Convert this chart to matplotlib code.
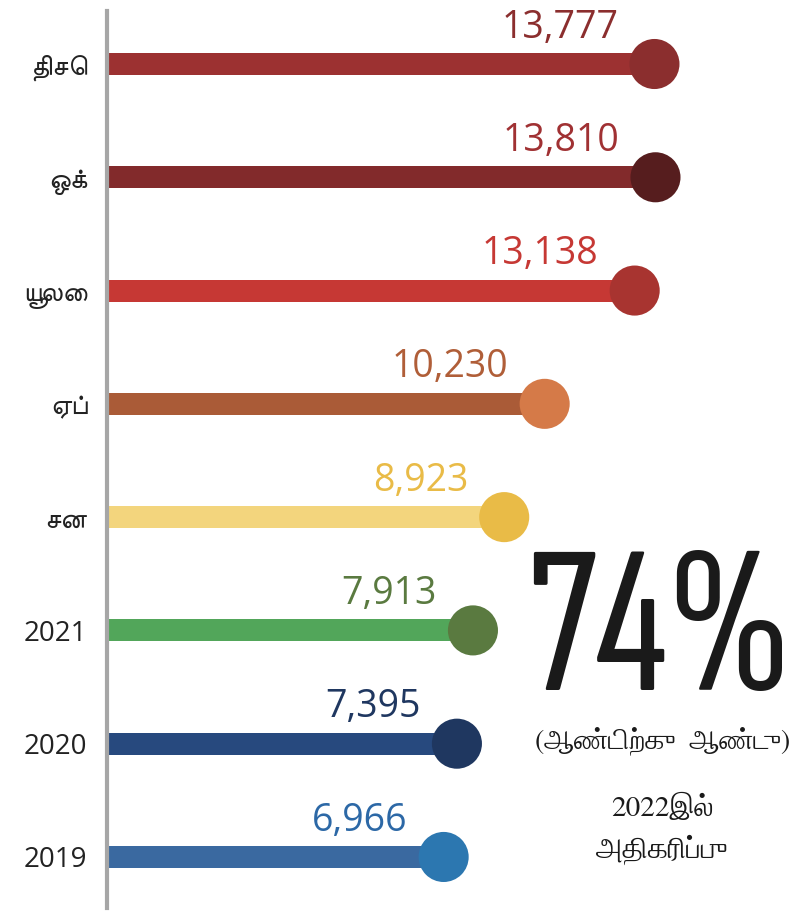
import matplotlib
matplotlib.use("Agg")
import matplotlib.pyplot as plt

# Data, top row first.
months = ["திசெ", "ஒக்", "யூலை", "ஏப்", "சன", "2021", "2020", "2019"]
counts = [13777, 13810, 13138, 10230, 8923, 7913, 7395, 6966]
bar_colors = ["#9c3131", "#822a2b", "#c63834", "#aa5b37", "#f3d57d",
              "#52a65a", "#27497e", "#3a69a0"]
dot_colors = ["#8b2e2e", "#561d1e", "#a83430", "#d57a48", "#e9bb47",
              "#5a7a40", "#1f3760", "#2c77b0"]
text_colors = ["#8b2e2e", "#a03133", "#c63834", "#b05e38", "#e9bb47",
               "#5a7a40", "#1f3760", "#2c68a6"]
headline = "74%"
sub1 = "(ஆண்டிற்கு  ஆண்டு)"
sub2 = ["2022இல்", "அதிகரிப்பு"]

plt.rcParams["font.family"] = ["Open Sans", "FreeSans", "DejaVu Sans"]

fig = plt.figure(figsize=(7.96, 9.11), dpi=100)
ax = fig.add_axes([107 / 796, 0, 1 - 107 / 796, 1])

n = len(months)
ypos = list(range(n - 1, -1, -1))
x0 = -3910  # the bars start off-zero in the original graphic
ax.set_xlim(x0, 18350)
ax.set_ylim(-0.477, 7.565)

ax.barh(ypos, [c - x0 for c in counts], left=x0, height=0.195,
        color=bar_colors, zorder=2)
ax.scatter(counts, ypos, s=1300, c=dot_colors, zorder=3, linewidths=0)
for c, y, tc in zip(counts, ypos, text_colors):
    ax.annotate(f"{c:,}", (c, y), xytext=(-26, 19), textcoords="offset points",
                ha="right", va="baseline", fontsize=27, color=tc)

ax.set_yticks(ypos)
ax.set_yticklabels(months, fontsize=20, color="#222222")
ax.tick_params(axis="y", length=0, pad=14)
ax.set_xticks([])
for s in ["top", "right", "bottom"]:
    ax.spines[s].set_visible(False)
ax.spines["left"].set_color("#a6a6a6")
ax.spines["left"].set_linewidth(3)
ax.spines["left"].set_bounds(-0.45, 7.47)

fig.text(660 / 796, 1 - 690 / 911, headline, ha="center", va="baseline",
         fontsize=152, color="#1a1a1a",
         family=["Sofia Sans Extra Condensed", "DejaVu Sans"])
fig.text(663 / 796, 1 - 741 / 911, sub1, ha="center", va="center",
         fontsize=20, color="#1a1a1a", family=["FreeSerif", "DejaVu Sans"])
fig.text(662 / 796, 1 - 808 / 911, sub2[0], ha="center", va="center",
         fontsize=21, color="#1a1a1a", family=["FreeSerif", "DejaVu Sans"])
fig.text(662 / 796, 1 - 850 / 911, sub2[1], ha="center", va="center",
         fontsize=21, color="#1a1a1a", family=["FreeSerif", "DejaVu Sans"])

fig.savefig("out.png", dpi=100)
